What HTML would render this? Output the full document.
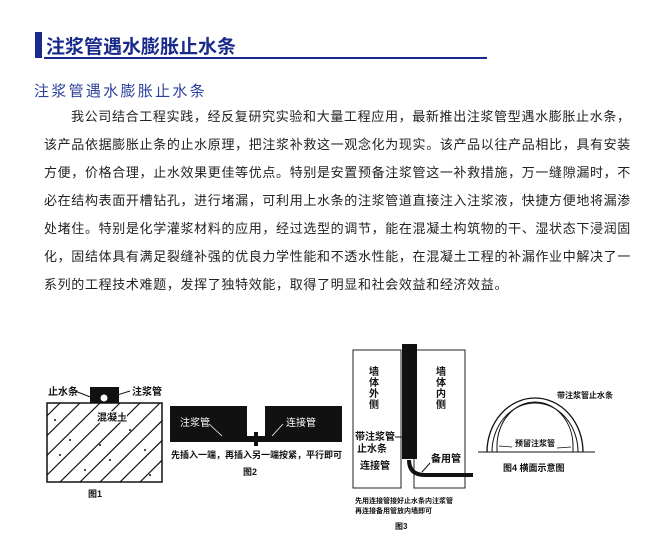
<!DOCTYPE html>
<html><head><meta charset="utf-8"><style>
body{margin:0;width:667px;height:550px;background:#fff;position:relative;overflow:hidden;font-family:"Liberation Sans","Noto Sans CJK SC",sans-serif;}
.t{position:absolute;white-space:nowrap}
#bar{position:absolute;left:35px;top:32px;width:7px;height:26px;background:#1a2a8c}
#h1{left:46px;top:32px;font-size:19px;font-weight:bold;color:#1a2a8c;letter-spacing:0px}
#ul{position:absolute;left:44px;top:57px;width:443px;height:2px;background:#1a2a8c}
#h2{left:34px;top:80px;font-size:15px;color:#2c3f9c;letter-spacing:2.3px}
.p{left:44px;font-size:13px;color:#222;letter-spacing:0.65px;line-height:16px}
svg{position:absolute;left:0;top:0}
svg text{font-family:"Liberation Sans","Noto Sans CJK SC",sans-serif;fill:#111;font-weight:bold}
</style></head><body>
<div id="bar"></div>
<div class="t" id="h1">注浆管遇水膨胀止水条</div>
<div id="ul"></div>
<div class="t" id="h2">注浆管遇水膨胀止水条</div>
<div class="t p" style="top:109px;left:71px">我公司结合工程实践，经反复研究实验和大量工程应用，最新推出注浆管型遇水膨胀止水条，</div>
<div class="t p" style="top:137px">该产品依据膨胀止条的止水原理，把注浆补救这一观念化为现实。该产品以往产品相比，具有安装</div>
<div class="t p" style="top:165px">方便，价格合理，止水效果更佳等优点。特别是安置预备注浆管这一补救措施，万一缝隙漏时，不</div>
<div class="t p" style="top:193px">必在结构表面开槽钻孔，进行堵漏，可利用上水条的注浆管道直接注入注浆液，快捷方便地将漏渗</div>
<div class="t p" style="top:221px">处堵住。特别是化学灌浆材料的应用，经过选型的调节，能在混凝土构筑物的干、湿状态下浸润固</div>
<div class="t p" style="top:249px">化，固结体具有满足裂缝补强的优良力学性能和不透水性能，在混凝土工程的补漏作业中解决了一</div>
<div class="t p" style="top:277px">系列的工程技术难题，发挥了独特效能，取得了明显和社会效益和经济效益。</div>
<svg width="667" height="550">
<defs><clipPath id="c1"><rect x="47" y="403" width="115" height="79"/></clipPath></defs>
<rect x="47" y="403" width="115" height="79" fill="#fff" stroke="#111" stroke-width="1.5"/>
<g clip-path="url(#c1)" stroke="#111" stroke-width="1.2">
<line x1="20" y1="482" x2="100" y2="403"/><line x1="40" y1="482" x2="120" y2="403"/><line x1="60" y1="482" x2="140" y2="403"/><line x1="80" y1="482" x2="160" y2="403"/><line x1="100" y1="482" x2="180" y2="403"/><line x1="120" y1="482" x2="200" y2="403"/><line x1="140" y1="482" x2="220" y2="403"/><line x1="0" y1="482" x2="80" y2="403"/><line x1="-20" y1="482" x2="60" y2="403"/>
</g>
<g fill="#111"><circle cx="55" cy="420" r="1"/><circle cx="70" cy="440" r="1"/><circle cx="60" cy="455" r="1"/><circle cx="85" cy="470" r="1"/><circle cx="110" cy="460" r="1"/><circle cx="130" cy="430" r="1"/><circle cx="145" cy="450" r="1"/><circle cx="120" cy="415" r="1"/><circle cx="150" cy="475" r="1"/><circle cx="100" cy="445" r="1"/></g>
<rect x="90" y="387" width="29" height="16" fill="#111"/>
<circle cx="104" cy="398" r="3.5" fill="#fff"/>
<text x="48" y="395" font-size="10">止水条</text>
<line x1="75" y1="391" x2="98" y2="400" stroke="#111"/>
<text x="132" y="395" font-size="10">注浆管</text>
<line x1="108" y1="398" x2="130" y2="391" stroke="#111"/>
<text x="97" y="421" font-size="10" style="paint-order:stroke" stroke="#fff" stroke-width="2">混凝土</text>
<text x="88" y="497" font-size="9">图1</text>
<rect x="170" y="406" width="77" height="34" fill="#111"/>
<rect x="265" y="406" width="77" height="34" fill="#111"/>
<rect x="170" y="439" width="172" height="3" fill="#111"/>
<rect x="247" y="436" width="18" height="6" fill="#111"/>
<rect x="254" y="432" width="4" height="14" fill="#111"/>
<text x="180" y="426" font-size="10" style="fill:#fff;font-weight:normal">注浆管</text>
<text x="286" y="426" font-size="10" style="fill:#fff;font-weight:normal">连接管</text>
<line x1="209" y1="424" x2="222" y2="436" stroke="#fff" stroke-width="0.8"/>
<line x1="283" y1="424" x2="272" y2="436" stroke="#fff" stroke-width="0.8"/>
<text x="171" y="458" font-size="9">先插入一端，再插入另一端按紧，平行即可</text>
<text x="243" y="475" font-size="9">图2</text>
<rect x="353" y="350" width="48" height="138" fill="none" stroke="#222" stroke-width="1"/>
<rect x="414" y="350" width="51" height="138" fill="none" stroke="#222" stroke-width="1"/>
<rect x="402" y="344" width="15" height="115" fill="#111"/>
<path d="M409 460 Q409 475 425 475 L473 475" fill="none" stroke="#111" stroke-width="4"/>
<text font-size="10"><tspan x="369" y="375">墙</tspan><tspan x="369" y="386">体</tspan><tspan x="369" y="397">外</tspan><tspan x="369" y="408">侧</tspan></text>
<text font-size="10"><tspan x="436" y="375">墙</tspan><tspan x="436" y="386">体</tspan><tspan x="436" y="397">内</tspan><tspan x="436" y="408">侧</tspan></text>
<text x="355" y="440" font-size="10">带注浆管</text>
<text x="357" y="452" font-size="10">止水条</text>
<line x1="395" y1="437" x2="402" y2="437" stroke="#111"/>
<text x="360" y="469" font-size="10">连接管</text>
<text x="431" y="462" font-size="10">备用管</text>
<line x1="430" y1="463" x2="422" y2="472" stroke="#111"/>
<text x="355" y="503" font-size="7">先用连接管接好止水条内注浆管</text>
<text x="355" y="513" font-size="7">再连接备用管放内墙即可</text>
<text x="395" y="529" font-size="8">图3</text>
<line x1="478" y1="452" x2="595" y2="452" stroke="#111" stroke-width="1"/>
<path d="M487 452 A48 54 0 0 1 583 452" fill="none" stroke="#111" stroke-width="1.3"/>
<path d="M492 452 A43 49 0 0 1 578 452" fill="none" stroke="#111" stroke-width="1"/>
<path d="M497 446 A38 44 0 0 1 573 446" fill="none" stroke="#111" stroke-width="1"/>
<line x1="497" y1="446" x2="497" y2="452" stroke="#111"/>
<line x1="573" y1="446" x2="573" y2="452" stroke="#111"/>
<text x="557" y="398" font-size="8">带注浆管止水条</text>
<text x="515" y="446" font-size="8">预留注浆管</text>
<line x1="499" y1="446" x2="512" y2="447" stroke="#111" stroke-width="0.7"/>
<line x1="571" y1="447" x2="557" y2="448" stroke="#111" stroke-width="0.7"/>
<text x="503" y="471" font-size="9">图4 横面示意图</text>
</svg>
</body></html>
